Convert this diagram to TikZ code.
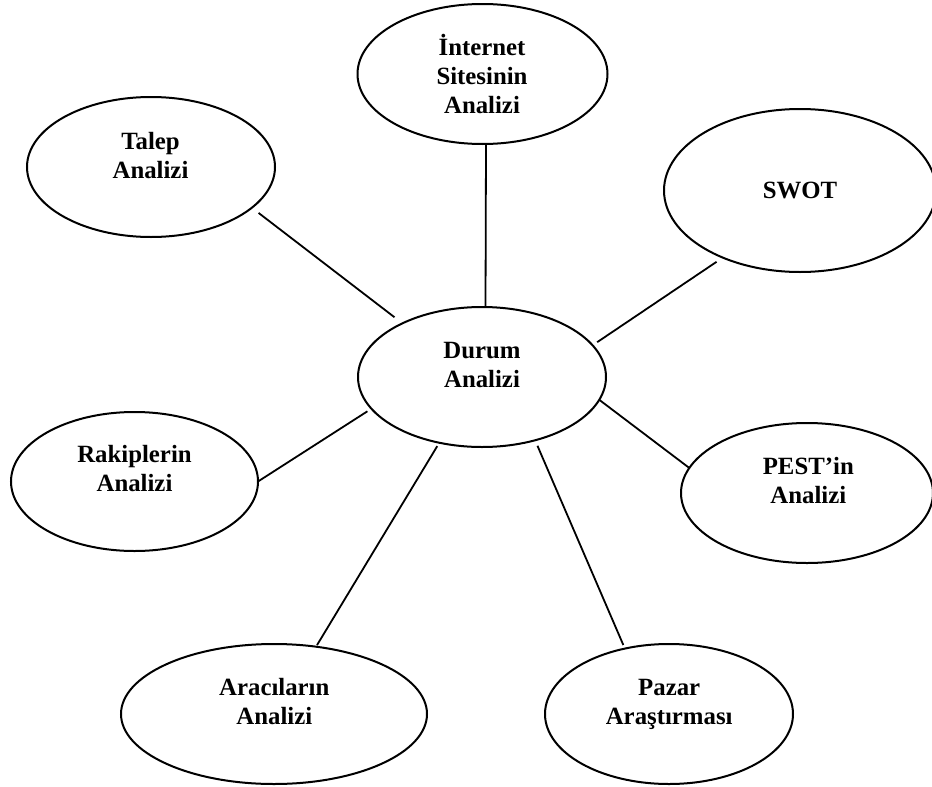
\documentclass[tikz,border=0pt]{standalone}
\usepackage{fontspec}
\setmainfont{Liberation Serif}
\usetikzlibrary{shapes.geometric}
\begin{document}
\begin{tikzpicture}[x=1pt,y=-1pt,
  oval/.style={draw=black, line width=2pt, ellipse, inner sep=0pt, outer sep=0pt},
  lbl/.style={align=center, inner sep=0pt, anchor=base,
    font=\fontsize{24.8}{29}\selectfont\bfseries},
  link/.style={draw=black, line width=1.8pt}]
\useasboundingbox (0,0) rectangle (932,787);

% ellipses
\node[oval, minimum width=250pt, minimum height=140pt] (internet) at (482.5,74) {};
\node[oval, minimum width=248pt, minimum height=140pt] (talep)    at (151,167) {};
\node[oval, minimum width=272pt, minimum height=163pt] (swot)     at (800,190.5) {};
\node[oval, minimum width=248pt, minimum height=140pt] (durum)    at (482,377) {};
\node[oval, minimum width=247pt, minimum height=139pt] (rakip)    at (134.5,481.5) {};
\node[oval, minimum width=252pt, minimum height=140pt] (pest)     at (807,493) {};
\node[oval, minimum width=306pt, minimum height=140pt] (araci)    at (274,714) {};
\node[oval, minimum width=248pt, minimum height=140pt] (pazar)    at (669,714) {};

% labels (anchored on the baseline of their last line)
\node[lbl] (internetT) at (482,113.3)   {İnternet\\Sitesinin\\Analizi};
\node[lbl] (talepT)    at (150.5,178.3) {Talep\\Analizi};
\node[lbl] (swotT)     at (800,198.3)   {SWOT};
\node[lbl] (durumT)    at (482,387)     {Durum\\Analizi};
\node[lbl] (rakipT)    at (134.5,491)   {Rakiplerin\\Analizi};
\node[lbl] (pestT)     at (808.3,503.3) {PEST’in\\Analizi};
\node[lbl] (araciT)    at (274.3,724.3) {Aracıların\\Analizi};
\node[lbl] (pazarT)    at (669.2,724.3) {Pazar\\Araştırması};

% connectors
\draw[link] ([xshift=3.5pt]internet.south) -- ([xshift=3.5pt]durum.north);
\draw[link, shorten <=8.5pt, shorten >=10pt] (talep.-22.9) -- (durum.146.9);
\draw[link, shorten <=7.5pt, shorten >=5.6pt] (swot.-139.3) -- (durum.16.1);
\draw[link, shorten >=4.8pt] (rakip.0.7) -- (durum.196.5);
\draw[link] (durum.-11.7) -- (pest.168.4);
\draw[link, shorten <=4pt, shorten >=1.9pt] (durum.-123.6) -- (araci.58.7);
\draw[link, shorten <=6pt, shorten >=3.9pt] (durum.-50) -- (pazar.124.2);
\end{tikzpicture}
\end{document}
